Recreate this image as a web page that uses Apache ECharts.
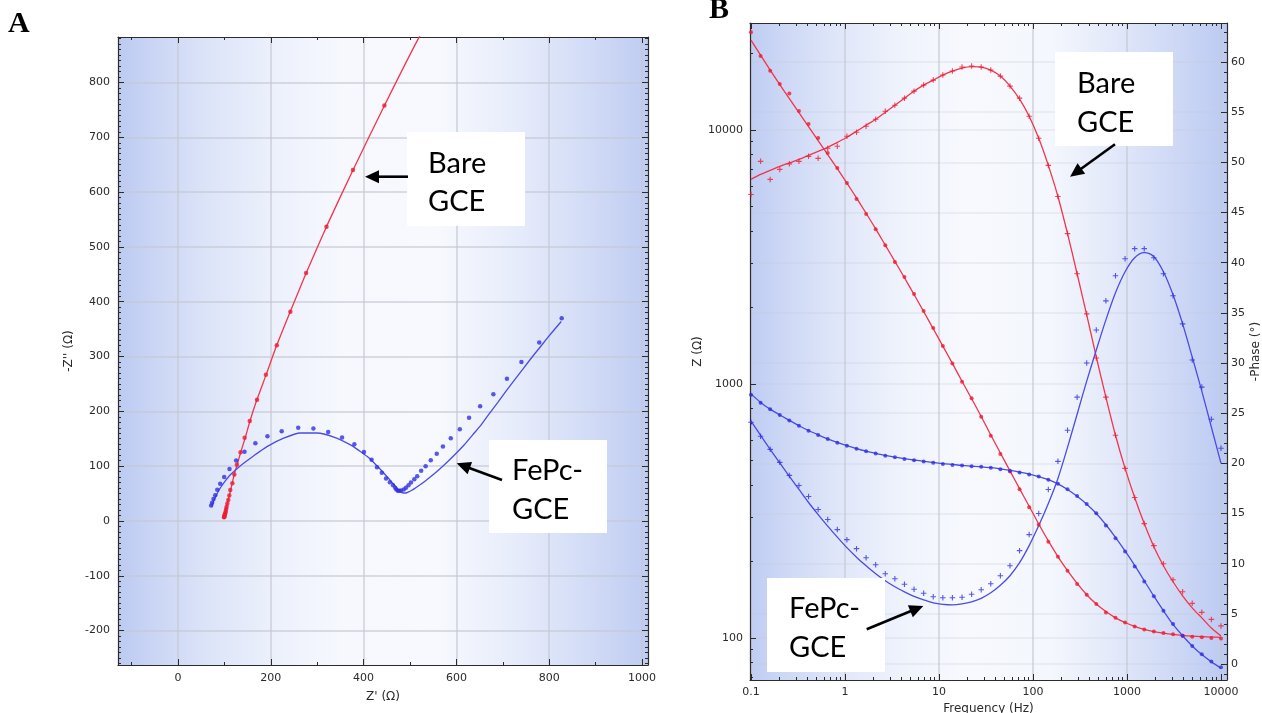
<!DOCTYPE html>
<html>
<head>
<meta charset="utf-8">
<title>EIS of bare GCE and FePc-GCE: Nyquist (A) and Bode (B)</title>
<script src="https://cdn.jsdelivr.net/npm/echarts@6/dist/echarts.min.js"></script>
<style>
html, body { margin: 0; padding: 0; background: #ffffff; }
#chart { width: 1262px; height: 713px; }
</style>
</head>
<body>
<div id="chart"></div>
<script>
// ---------- Panel A: Nyquist data, Z' and -Z'' in ohm ----------
const bareNyqRe = [99.2, 99.7, 100.3, 100.6, 101.2, 102.4, 102.9, 103.8, 104.8, 106.4,
  108.4, 110.6, 112.7, 117.2, 121.4, 126.9, 134.8, 143.6, 154.6, 170.3,
  189.4, 213.0, 242.2, 276.1, 320.0, 377.1, 444.9];
const bareNyqIm = [6.6, 7.8, 9.0, 10.7, 12.8, 15.1, 18.1, 21.7, 26.1, 31.7,
  38.4, 46.5, 56.4, 69.0, 84.7, 102.4, 125.2, 151.8, 182.3, 221.0,
  266.6, 320.7, 381.6, 452.4, 536.9, 640.2, 758.1];
const bareNyqFitRe = [100.2, 101, 102.5, 104.5, 107, 110.5, 115, 121, 128, 135, 145,
  155, 170, 190, 213, 242, 276, 320, 377, 445, 518, 620];
const bareNyqFitIm = [3.5, 9, 17, 26, 35, 46, 62, 84, 104, 125, 152,
  182, 221, 267, 321, 382, 452, 537, 640, 758, 880, 1034];

const fepcNyqRe = [71.4, 73.5, 76.5, 80.3, 84.7, 91.0, 99.6, 111.0, 125.3, 143.3,
  166.8, 192.8, 223.5, 259.1, 291.8, 323.7, 353.6, 380.1, 400.8, 417.3,
  428.9, 439.3, 448.4, 456.6, 463.5, 468.1, 470.5, 473.8, 476.8, 480.8,
  486.7, 491.3, 496.8, 502.1, 509.3, 515.6, 524.1, 533.7, 544.8, 557.7,
  571.0, 587.9, 607.4, 627.4, 651.2, 679.7, 709.0, 740.2, 778.6, 827.0];
const fepcNyqIm = [28.1, 33.3, 40.0, 46.9, 56.9, 67.8, 80.4, 94.8, 110.4, 126.3,
  141.9, 154.4, 163.6, 170.2, 168.5, 162.1, 152.3, 139.8, 125.6, 111.8,
  98.2, 87.8, 77.4, 70.7, 65.1, 60.8, 57.4, 55.2, 55.2, 55.6,
  57.2, 60.8, 65.0, 70.1, 76.1, 81.7, 91.5, 99.9, 110.9, 122.6,
  136.0, 151.0, 167.3, 188.2, 209.1, 231.4, 259.5, 290.1, 325.7, 369.9];
const fepcNyqFitRe = [72.9, 76.4, 82, 90.8, 100, 112.4, 134, 162.8, 191.8, 227.7,
  263.8, 300, 335.8, 371.9, 390, 408, 426, 444, 455, 465.5,
  473, 479, 485, 491, 497, 503, 509, 521, 533, 545,
  563, 581, 599, 617, 635, 653, 671, 689, 707, 725,
  745, 765, 785, 805, 826];
const fepcNyqFitIm = [26, 35, 46, 59.7, 71, 84, 100.5, 118.7, 135.7, 151,
  160.5, 160.5, 153, 138.8, 128.6, 117.4, 103, 87.1, 76.5, 66,
  58.5, 53.5, 51, 51, 53, 55.5, 58.5, 65.5, 73, 81,
  94, 108, 123, 139, 157, 175, 196, 216, 237, 257,
  279, 301, 322, 343, 364];

// ---------- Panel B: Bode data ----------
const freq = [0.1, 0.1265, 0.16, 0.2024, 0.256, 0.3237, 0.4095, 0.5179, 0.6551, 0.8286,
  1.048, 1.326, 1.677, 2.121, 2.683, 3.393, 4.292, 5.429, 6.866, 8.685,
  10.99, 13.89, 17.58, 22.23, 28.12, 35.56, 44.98, 56.9, 71.97, 91.03,
  115.1, 145.6, 184.2, 233, 294.7, 372.8, 471.5, 596.4, 754.3, 954.1,
  1207, 1526, 1931, 2442, 3089, 3907, 4942, 6251, 7906, 10000];

const bareZ = [24270, 19540, 17100, 15170, 13930, 11890, 10570, 9310, 8110, 7080,
  6180, 5350, 4670, 4070, 3520, 3020, 2640, 2260, 1940, 1660,
  1410, 1205, 1021, 879, 743, 625, 530, 452, 385, 327,
  279, 239, 209, 184, 163, 148, 136, 126, 120, 115,
  111, 108, 106, 104.5, 103.5, 102, 101.2, 100.7, 100, 99.4];
const bareZFit = [22600, 19700, 17200, 15100, 13300, 11700, 10300, 9080, 8000, 7040,
  6180, 5400, 4700, 4080, 3520, 3040, 2620, 2250, 1930, 1650,
  1410, 1205, 1025, 875, 745, 630, 535, 455, 387, 330,
  281, 241, 209, 184, 164, 148, 136, 127, 120, 115,
  111, 108, 106, 104.5, 103.3, 102.4, 101.7, 101.2, 100.8, 100.5];
const barePhase = [46.8, 50.1, 48.3, 49.3, 49.85, 50.1, 50.6, 50.4, 51.4, 51.6,
  52.6, 53.0, 53.6, 54.3, 55.1, 55.7, 56.4, 57.1, 57.7, 58.2,
  58.7, 59.1, 59.5, 59.6, 59.5, 59.2, 58.6, 57.6, 56.4, 54.6,
  52.4, 49.7, 46.6, 42.9, 38.9, 34.9, 30.5, 26.6, 22.8, 19.5,
  16.6, 14.0, 11.8, 10.0, 8.4, 7.2, 6.05, 5.15, 4.45, 3.8];
const barePhaseFit = [48.3, 48.8, 49.2, 49.6, 49.95, 50.3, 50.7, 51.1, 51.5, 52.0,
  52.5, 53.1, 53.7, 54.3, 55.0, 55.7, 56.4, 57.1, 57.7, 58.2,
  58.7, 59.1, 59.4, 59.55, 59.5, 59.2, 58.6, 57.6, 56.3, 54.6,
  52.4, 49.7, 46.6, 42.9, 38.9, 34.8, 30.6, 26.6, 22.8, 19.5,
  16.6, 14.0, 11.7, 9.8, 8.2, 6.8, 5.6, 4.6, 3.6, 2.8];

const fepcZ = [906, 844, 795, 755, 718, 684, 655, 630, 607, 587,
  571, 556, 543, 532, 522, 515, 507, 501, 495, 490,
  484, 480, 477, 474, 472, 468, 462, 455, 448, 440,
  432, 420, 405, 385, 362, 337, 310, 277, 247, 219,
  191, 167, 146, 128, 113.5, 102, 93, 86.3, 80.7, 76.7];
const fepcZFit = [914, 846, 796, 755, 719, 685, 656, 631, 608, 589,
  572, 557, 544, 533, 523, 515, 508, 502, 496, 491,
  486, 482, 478, 475, 472, 468, 463, 457, 450, 442,
  432, 420, 404, 384, 361, 336, 309, 279, 249, 220,
  193, 168, 146, 128, 113, 102, 93, 86, 80.5, 76];
const fepcPhase = [24.1, 22.7, 21.4, 20.1, 18.8, 17.8, 16.7, 15.4, 14.4, 13.4,
  12.4, 11.5, 10.6, 9.9, 9.0, 8.5, 7.95, 7.45, 7.05, 6.7,
  6.6, 6.6, 6.65, 6.95, 7.4, 8.0, 8.8, 9.8, 11.3, 12.9,
  15.0, 17.4, 20.2, 23.3, 26.6, 30.0, 33.3, 36.2, 38.7, 40.4,
  41.4, 41.4, 40.5, 38.9, 36.7, 33.9, 30.3, 27.6, 24.4, 21.5];
const fepcPhaseFit = [24.2, 22.8, 21.4, 20.05, 18.7, 17.4, 16.1, 14.9, 13.75, 12.65,
  11.6, 10.65, 9.8, 9.0, 8.3, 7.7, 7.2, 6.75, 6.4, 6.1,
  5.95, 5.9, 6.0, 6.2, 6.55, 7.1, 7.85, 8.8, 10.1, 11.8,
  13.8, 16.0, 18.5, 21.6, 24.9, 28.2, 31.3, 34.3, 37.0, 39.1,
  40.5, 41.0, 40.6, 39.1, 36.8, 33.9, 30.6, 27.2, 23.6, 20.0];

// ---------- Tick positions ----------
function range(a, b, step) {
  const out = [];
  for (let v = a; v <= b + 1e-9; v += step) out.push(+v.toFixed(6));
  return out;
}
function logMinor(decades) {
  const out = [];
  decades.forEach(d => { for (let m = 2; m <= 9; m++) out.push(+(m * d).toPrecision(6)); });
  return out;
}
const nyqXMajor = [0, 200, 400, 600, 800, 1000];
const nyqXMinor = [-100, 100, 300, 500, 700, 900];
const nyqYMajor = [-200, -100, 0, 100, 200, 300, 400, 500, 600, 700, 800];
const nyqYMinor = range(-260, 880, 10).filter(v => v % 100 !== 0);
const freqMajor = [0.1, 1, 10, 100, 1000, 10000];
const freqMinor = logMinor([0.1, 1, 10, 100, 1000]);
const zMajor = [100, 1000, 10000];
const zMinor = [70, 80, 90].concat(logMinor([100, 1000]), [20000]);
const phaseMajor = [0, 5, 10, 15, 20, 25, 30, 35, 40, 45, 50, 55, 60];
const phaseMinor = range(-1, 63, 1).filter(v => v % 5 !== 0);

// ---------- Styling ----------
const AXIS_COLOR = '#2b2b2b';
const TEXT_COLOR = '#2a2a2a';
const LABEL_FONT = 'DejaVu Sans';
const RED_DOT = '#ee1c2e', RED_LINE = '#f5334a';
const BLUE_DOT = '#2f2fe3', BLUE_LINE = '#4b4be6';
const PLUS = 'path://M4,0H6V4H10V6H6V10H4V6H0V4H4Z';
const GRID_LINE = { color: 'rgba(196,200,210,0.6)', width: 2 };
const GRID_LINE_FAINT = { color: 'rgba(196,200,210,0.32)', width: 1.5 };

function frameAxis(o) {
  return {
    type: o.type || 'value',
    gridIndex: o.grid,
    position: o.position,
    min: o.min,
    max: o.max,
    axisLine: { show: o.line !== false, onZero: false, lineStyle: { color: AXIS_COLOR, width: 1.2 } },
    axisTick: {
      show: true, inside: true, length: o.tickLen, customValues: o.ticks,
      lineStyle: { color: AXIS_COLOR, width: 1 }
    },
    axisLabel: o.labels ? {
      show: true, customValues: o.labels, margin: o.margin,
      color: TEXT_COLOR, fontFamily: LABEL_FONT, fontSize: 11,
      formatter: v => String(+(+v).toPrecision(6))
    } : { show: false },
    splitLine: o.split ? { show: true, lineStyle: o.split } : { show: false },
    minorTick: { show: false },
    minorSplitLine: { show: false },
    name: o.name || '',
    nameLocation: 'middle',
    nameGap: o.nameGap || 0,
    nameRotate: o.nameRotate,
    nameTextStyle: { color: TEXT_COLOR, fontFamily: LABEL_FONT, fontSize: 12 }
  };
}

const NYQ_X = { min: -129.3, max: 1013 };
const NYQ_Y = { min: -262.8, max: 883 };
const BODE_F = { min: 0.0976, max: 11585 };
const BODE_Z = { min: 68.3, max: 26380 };
const BODE_P = { min: -1.59, max: 63.89 };

const xAxes = [
  frameAxis(Object.assign({ grid: 0, position: 'bottom', ticks: nyqXMajor, tickLen: 6, labels: nyqXMajor, margin: 8, split: GRID_LINE, name: "Z' (Ω)", nameGap: 26 }, NYQ_X)),
  frameAxis(Object.assign({ grid: 0, position: 'bottom', ticks: nyqXMinor, tickLen: 3, line: false }, NYQ_X)),
  frameAxis(Object.assign({ grid: 0, position: 'top', ticks: nyqXMajor, tickLen: 6 }, NYQ_X)),
  frameAxis(Object.assign({ grid: 0, position: 'top', ticks: nyqXMinor, tickLen: 3, line: false }, NYQ_X)),
  frameAxis(Object.assign({ type: 'log', grid: 1, position: 'bottom', ticks: freqMajor, tickLen: 6, labels: freqMajor, margin: 7, split: GRID_LINE, name: 'Frequency (Hz)', nameGap: 17 }, BODE_F)),
  frameAxis(Object.assign({ type: 'log', grid: 1, position: 'bottom', ticks: freqMinor, tickLen: 3, line: false }, BODE_F)),
  frameAxis(Object.assign({ type: 'log', grid: 1, position: 'top', ticks: freqMajor, tickLen: 6 }, BODE_F)),
  frameAxis(Object.assign({ type: 'log', grid: 1, position: 'top', ticks: freqMinor, tickLen: 3, line: false }, BODE_F))
];
const yAxes = [
  frameAxis(Object.assign({ grid: 0, position: 'left', ticks: nyqYMajor, tickLen: 6, labels: nyqYMajor, margin: 8, split: GRID_LINE, name: "-Z'' (Ω)", nameGap: 43, nameRotate: 90 }, NYQ_Y)),
  frameAxis(Object.assign({ grid: 0, position: 'left', ticks: nyqYMinor, tickLen: 3, line: false }, NYQ_Y)),
  frameAxis(Object.assign({ grid: 0, position: 'right', ticks: nyqYMajor, tickLen: 6 }, NYQ_Y)),
  frameAxis(Object.assign({ grid: 0, position: 'right', ticks: nyqYMinor, tickLen: 3, line: false }, NYQ_Y)),
  frameAxis(Object.assign({ type: 'log', grid: 1, position: 'left', ticks: zMajor, tickLen: 6, labels: zMajor, margin: 7, split: GRID_LINE_FAINT, name: 'Z (Ω)', nameGap: 46, nameRotate: 90 }, BODE_Z)),
  frameAxis(Object.assign({ type: 'log', grid: 1, position: 'left', ticks: zMinor, tickLen: 3, line: false }, BODE_Z)),
  frameAxis(Object.assign({ grid: 1, position: 'right', ticks: phaseMajor, tickLen: 6, labels: phaseMajor, margin: 4, split: GRID_LINE_FAINT, name: '-Phase (°)', nameGap: 23, nameRotate: 90 }, BODE_P)),
  frameAxis(Object.assign({ grid: 1, position: 'right', ticks: phaseMinor, tickLen: 3, line: false }, BODE_P))
];

const pairs = (xs, ys) => xs.map((x, i) => [x, ys[i]]);
function fitLine(data, color, xi, yi, smooth) {
  return {
    type: 'line', xAxisIndex: xi, yAxisIndex: yi, data,
    showSymbol: false, smooth: smooth, silent: true, z: 3,
    lineStyle: { color, width: 1.3 }
  };
}
function marks(data, color, xi, yi, symbol, size) {
  return {
    type: 'scatter', xAxisIndex: xi, yAxisIndex: yi, data,
    symbol, symbolSize: size, silent: true, z: 4,
    itemStyle: { color }
  };
}

// Soft blue edge shading of the plot areas
const shadeA = {
  type: 'linear', x: 0, y: 0, x2: 1, y2: 0,
  colorStops: [
    { offset: 0, color: '#bccaf2' }, { offset: 0.07, color: '#cbd6f5' },
    { offset: 0.17, color: '#dce4f8' }, { offset: 0.3, color: '#edf1fc' },
    { offset: 0.42, color: '#f6f8fe' }, { offset: 0.6, color: '#f7f9fe' },
    { offset: 0.74, color: '#e8edfb' }, { offset: 0.87, color: '#d5def7' },
    { offset: 1, color: '#bfccf2' }
  ]
};
const shadeB = {
  type: 'linear', x: 0, y: 0, x2: 1, y2: 0,
  colorStops: [
    { offset: 0, color: '#bfcdf3' }, { offset: 0.08, color: '#cfd9f6' },
    { offset: 0.18, color: '#dfe6f9' }, { offset: 0.32, color: '#eff3fc' },
    { offset: 0.45, color: '#f7f9fe' }, { offset: 0.63, color: '#f4f7fd' },
    { offset: 0.76, color: '#e3e9fa' }, { offset: 0.88, color: '#d0daf6' },
    { offset: 1, color: '#bccaf2' }
  ]
};

// Callout boxes with arrows
const CALLOUT_FONT = '29px Lato';
function callout(box, lines, textX, textYs) {
  const els = [{
    type: 'rect', z: 100, silent: true,
    shape: { x: box[0], y: box[1], width: box[2], height: box[3] },
    style: { fill: '#ffffff' }
  }];
  lines.forEach((t, i) => els.push({
    type: 'text', z: 101, silent: true, x: textX, y: textYs[i],
    style: { text: t, font: CALLOUT_FONT, fill: '#000000', align: 'left', verticalAlign: 'middle' }
  }));
  return els;
}
function arrow(tail, tip) {
  const dx = tip[0] - tail[0], dy = tip[1] - tail[1];
  const len = Math.hypot(dx, dy), ux = dx / len, uy = dy / len;
  const head = 14, half = 6.5;
  const bx = tip[0] - ux * head, by = tip[1] - uy * head;
  return [
    { type: 'line', z: 102, silent: true,
      shape: { x1: tail[0], y1: tail[1], x2: bx + ux * 2, y2: by + uy * 2 },
      style: { stroke: '#000000', lineWidth: 2.6 } },
    { type: 'polygon', z: 102, silent: true,
      shape: { points: [tip, [bx - uy * half, by + ux * half], [bx + uy * half, by - ux * half]] },
      style: { fill: '#000000' } }
  ];
}

const graphics = [].concat(
  [{ type: 'text', z: 101, x: 8, y: 24, style: { text: 'A', font: 'bold 30px "Liberation Serif"', fill: '#000', verticalAlign: 'middle' } },
   { type: 'text', z: 101, x: 709, y: 10, style: { text: 'B', font: 'bold 30px "Liberation Serif"', fill: '#000', verticalAlign: 'middle' } }],
  callout([407, 132, 118, 94], ['Bare', 'GCE'], 428, [163.5, 201.5]),
  arrow([408, 176.7], [365, 176.7]),
  callout([489, 440, 118, 93], ['FePc-', 'GCE'], 512, [471, 510]),
  arrow([502, 480], [456.7, 463.3]),
  callout([1055, 52, 118, 94], ['Bare', 'GCE'], 1077, [84, 123]),
  arrow([1115, 144.3], [1070, 176.7]),
  callout([767, 578, 118, 94], ['FePc-', 'GCE'], 789, [609, 648]),
  arrow([866.7, 629.3], [923.3, 606])
);

const chart = echarts.init(document.getElementById('chart'), null, { renderer: 'canvas' });
chart.setOption({
  animation: false,
  backgroundColor: '#ffffff',
  grid: [
    { left: 118, top: 37, width: 530, height: 628, show: true, backgroundColor: shadeA, borderWidth: 0, containLabel: false, outerBoundsMode: 'none' },
    { left: 750, top: 23, width: 477, height: 657, show: true, backgroundColor: shadeB, borderWidth: 0, containLabel: false, outerBoundsMode: 'none' }
  ],
  xAxis: xAxes,
  yAxis: yAxes,
  series: [
    // Panel A
    fitLine(pairs(bareNyqFitRe, bareNyqFitIm), RED_LINE, 0, 0, 0.2),
    marks(pairs(bareNyqRe, bareNyqIm), RED_DOT, 0, 0, 'circle', 4.5),
    fitLine(pairs(fepcNyqFitRe, fepcNyqFitIm), BLUE_LINE, 0, 0, 0.2),
    marks(pairs(fepcNyqRe, fepcNyqIm), BLUE_DOT, 0, 0, 'circle', 4.5),
    // Panel B: |Z| on the left log axis
    fitLine(pairs(freq, bareZFit), RED_LINE, 4, 4, 0.3),
    marks(pairs(freq, bareZ), RED_DOT, 4, 4, 'circle', 4),
    fitLine(pairs(freq, fepcZFit), BLUE_LINE, 4, 4, 0.3),
    marks(pairs(freq, fepcZ), BLUE_DOT, 4, 4, 'circle', 4),
    // Panel B: -phase on the right axis
    fitLine(pairs(freq, barePhaseFit), RED_LINE, 4, 6, 0.3),
    marks(pairs(freq, barePhase), RED_DOT, 4, 6, PLUS, 5.5),
    fitLine(pairs(freq, fepcPhaseFit), BLUE_LINE, 4, 6, 0.3),
    marks(pairs(freq, fepcPhase), BLUE_DOT, 4, 6, PLUS, 5.5)
  ],
  graphic: graphics
});
</script>
</body>
</html>
